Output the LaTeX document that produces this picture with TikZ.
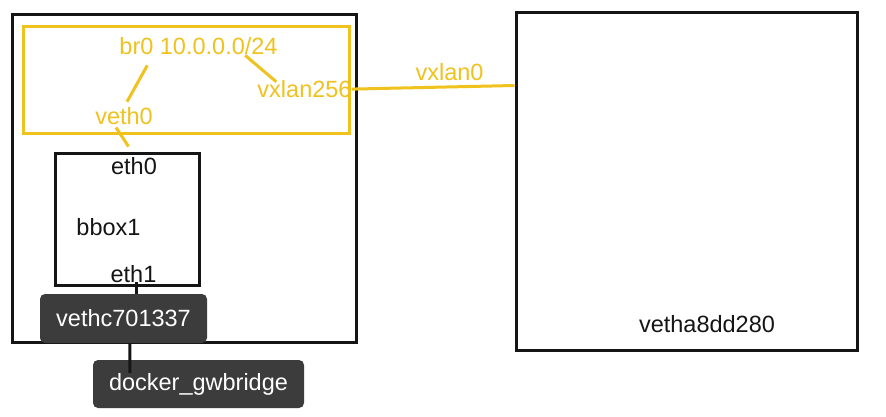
\documentclass[tikz,border=0pt]{standalone}
\usepackage{fontspec}
\setmainfont{Liberation Sans}
\usetikzlibrary{calc}
\definecolor{ylw}{HTML}{F0C21E}
\definecolor{dark}{HTML}{3C3C3C}
\definecolor{ink}{HTML}{151515}
\begin{document}
\begin{tikzpicture}[x=1pt,y=-1pt,
  lbl/.style={font=\fontsize{23.5}{28}\selectfont, inner sep=0pt, anchor=base},
  ylbl/.style={lbl, text=ylw},
  blbl/.style={lbl, text=ink},
  frame/.style={draw=ink, line width=3pt, inner sep=0pt},
  yframe/.style={draw=ylw, line width=3pt, inner sep=0pt},
  ylink/.style={draw=ylw, line width=3pt},
  blink/.style={draw=ink, line width=3pt},
  pill/.style={font=\fontsize{23.5}{28}\selectfont, fill=dark, text=white,
    rounded corners=5pt, inner sep=0pt}]
\useasboundingbox (0,0) rectangle (886,417);
\fill[white] (0,0) rectangle (886,417);
% frames
\node[frame, minimum width=344pt, minimum height=327pt] (host1) at (184,178.5) {};
\node[yframe, minimum width=326pt, minimum height=107pt] (bridge) at (186,80.5) {};
\node[frame, minimum width=144pt, minimum height=131pt] (bbox) at (127,219.5) {};
\node[frame, minimum width=341pt, minimum height=337pt] (host2) at (686.5,181.5) {};
% labels
\node[ylbl] (br0) at (198.5,55) {br0 10.0.0.0/24};
\node[ylbl] (vx256) at (304.5,97.5) {vxlan256};
\node[ylbl] (veth0) at (124,125) {veth0};
\node[ylbl] (vx0) at (449.5,81) {vxlan0};
\node[blbl] (eth0) at (134,175) {eth0};
\node[blbl] (bbox1) at (108.5,235) {bbox1};
\node[blbl, fill=white, inner sep=1pt] (eth1) at (133.5,282) {eth1};
\node[blbl] (vetha) at (707,332) {vetha8dd280};
% yellow links
\draw[ylink] ($(br0.south west)+(28,10)$) -- ($(veth0.north)+(3,-6)$);
\draw[ylink] ($(br0.south west)+(126,0)$) -- ($(vx256.north west)+(19,1.5)$);
\draw[ylink] ($(veth0.south)+(-8,2)$) -- ($(bbox.north west)+(75,-6)$);
\draw[ylink] (vx256.east) -- ($(host2.north west)+(0,74)$);
% grey interfaces
\node[pill, minimum width=167pt, minimum height=49pt] (vethc) at (123.5,318.5) {vethc701337};
\node[pill, minimum width=211pt, minimum height=48pt] (gw) at (198.5,384) {docker\_gwbridge};
% black links
\draw[blink] ($(eth1.south)+(2.5,-1)$) -- ($(vethc.north)+(12.5,0)$);
\draw[blink] ($(vethc.south)+(6.5,0)$) -- ($(gw.north west)+(37,13)$);
\end{tikzpicture}
\end{document}
